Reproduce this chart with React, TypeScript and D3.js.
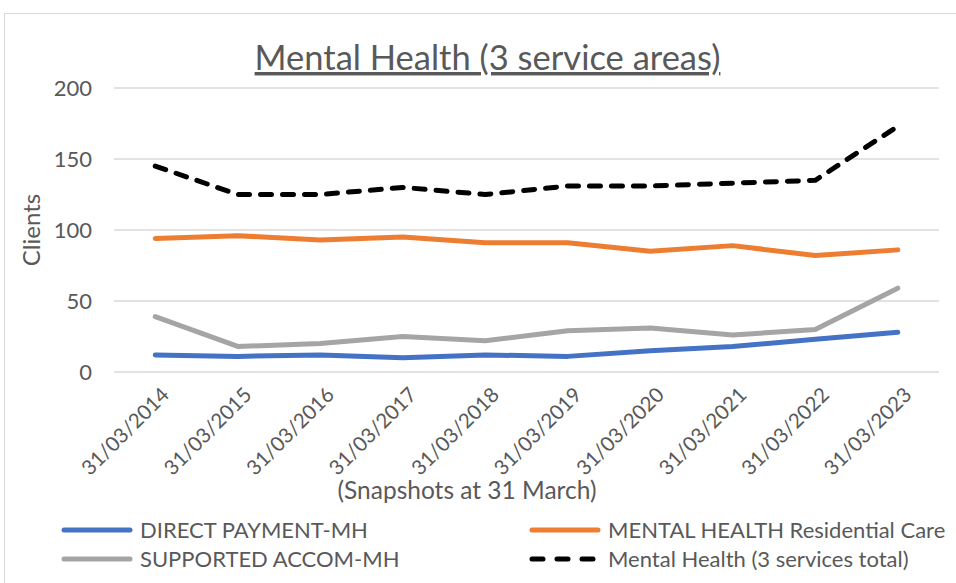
import React from "react";
import * as d3 from "d3";

const categories = [
  "31/03/2014", "31/03/2015", "31/03/2016", "31/03/2017", "31/03/2018",
  "31/03/2019", "31/03/2020", "31/03/2021", "31/03/2022", "31/03/2023",
];
const directPayment = [12, 11, 12, 10, 12, 11, 15, 18, 23, 28];
const residentialCare = [94, 96, 93, 95, 91, 91, 85, 89, 82, 86];
const supportedAccom = [39, 18, 20, 25, 22, 29, 31, 26, 30, 59];
const total = [145, 125, 125, 130, 125, 131, 131, 133, 135, 173];
const yTicks = [0, 50, 100, 150, 200];

const series = [
  { name: "DIRECT PAYMENT-MH", values: directPayment, color: "#4472C4", dash: null },
  { name: "MENTAL HEALTH Residential Care", values: residentialCare, color: "#ED7D31", dash: null },
  { name: "SUPPORTED ACCOM-MH", values: supportedAccom, color: "#A5A5A5", dash: null },
  { name: "Mental Health (3 services total)", values: total, color: "#000000", dash: "11 11" },
];

const FONT = "Lato, 'Open Sans', sans-serif";
const TEXT = "#595959";

export default function App() {
  const W = 956, H = 583;
  const left = 114, right = 939, top = 88, bottom = 372;
  const x = d3.scaleBand<string>().domain(categories).range([left, right]);
  const y = d3.scaleLinear().domain([0, 200]).range([bottom, top]);
  const cx = (c: string) => (x(c) as number) + x.bandwidth() / 2;
  const line = d3.line<number>().x((_, i) => cx(categories[i])).y((d) => y(d));

  const legend = [
    { s: series[0], lx: 62, ly: 530 },
    { s: series[1], lx: 530, ly: 530 },
    { s: series[2], lx: 62, ly: 559 },
    { s: series[3], lx: 530, ly: 559 },
  ];

  return (
    <svg width={W} height={H} style={{ position: "absolute", left: 0, top: 0 }} fontFamily={FONT}>
      <rect x={0} y={0} width={W} height={H} fill="#ffffff" />
      <rect x={4.5} y={13.5} width={W + 20} height={H + 20} fill="none" stroke="#D9D9D9" strokeWidth={1} />
      <text x={487.5} y={70} textAnchor="middle" fontSize={34.5} fill={TEXT} textDecoration="underline">
        Mental Health (3 service areas)
      </text>
      {yTicks.map((t) => (
        <g key={t}>
          <line x1={left} x2={right} y1={y(t)} y2={y(t)} stroke="#D9D9D9" strokeWidth={1.5} />
          <text x={92} y={y(t)} dy="0.36em" textAnchor="end" fontSize={22} fill={TEXT}>{t}</text>
        </g>
      ))}
      <text transform={`translate(40,230) rotate(-90)`} textAnchor="middle" fontSize={24} fill={TEXT}>Clients</text>
      {categories.map((c) => (
        <text key={c} transform={`translate(${cx(c) + 5},386) rotate(-45)`} textAnchor="end" dy="0.7em" fontSize={20.5} fill={TEXT}>
          {c}
        </text>
      ))}
      <text x={467} y={499} textAnchor="middle" fontSize={24.5} fill={TEXT}>(Snapshots at 31 March)</text>
      {series.map((s) => (
        <path key={s.name} d={line(s.values) as string} fill="none" stroke={s.color} strokeWidth={5}
          strokeLinecap="round" strokeLinejoin="round" strokeDasharray={s.dash ?? undefined} />
      ))}
      {legend.map(({ s, lx, ly }) => (
        <g key={s.name}>
          <line x1={lx + 2} x2={lx + 68} y1={ly} y2={ly} stroke={s.color} strokeWidth={5} strokeLinecap="round"
            strokeDasharray={s.dash ? "11 14" : undefined} />
          <text x={lx + 78} y={ly} dy="0.36em" fontSize={22} fill={TEXT}>{s.name}</text>
        </g>
      ))}
    </svg>
  );
}
